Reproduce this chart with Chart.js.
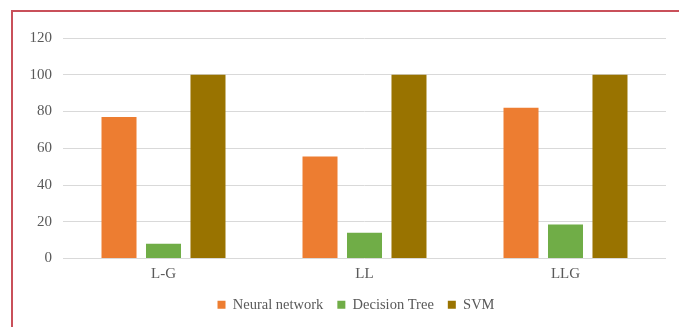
<!DOCTYPE html>
<html>
<head>
<meta charset="utf-8">
<script src="https://cdn.jsdelivr.net/npm/chart.js@4"></script>
<style>
  html, body { margin: 0; padding: 0; background: #fff; }
  body { width: 679px; height: 327px; position: relative; overflow: hidden; }
  #frame {
    position: absolute; left: 11px; top: 10px; width: 720px; height: 360px;
    border: 2px solid #c9505a; box-sizing: border-box;
  }
  #wrap { position: absolute; left: 0; top: 0; width: 679px; height: 327px; }
</style>
</head>
<body>
<div id="frame"></div>
<div id="wrap"><canvas id="c" width="679" height="327"></canvas></div>
<script>
const categories = ["L-G", "LL", "LLG"];
const neuralNetwork = [77, 55.5, 82];
const decisionTree = [8, 14, 18.5];
const svm = [100, 100, 100];
const seriesNames = ["Neural network", "Decision Tree", "SVM"];

const serif = "'Liberation Serif', 'Times New Roman', serif";

// Nudge the legend block to the right of the plot's centre line.
const legendShift = {
  id: "legendShift",
  afterLayout(chart) {
    const lg = chart.legend;
    if (lg) { lg.left += 23; lg.right += 23; }
  }
};

new Chart(document.getElementById("c"), {
  type: "bar",
  data: {
    labels: categories,
    datasets: [
      { label: seriesNames[0], data: neuralNetwork, backgroundColor: "#ed7d31" },
      { label: seriesNames[1], data: decisionTree, backgroundColor: "#70ad47" },
      { label: seriesNames[2], data: svm, backgroundColor: "#997300" }
    ]
  },
  plugins: [legendShift],
  options: {
    responsive: false,
    animation: false,
    devicePixelRatio: 1,
    layout: { padding: { top: 38, right: 13, bottom: 5, left: 0 } },
    datasets: { bar: { categoryPercentage: 0.664, barPercentage: 0.787 } },
    plugins: {
      tooltip: { enabled: false },
      legend: {
        position: "bottom",
        labels: {
          boxWidth: 8, boxHeight: 8, padding: 14,
          color: "#595959",
          font: { family: serif, size: 14.5 }
        }
      }
    },
    scales: {
      x: {
        afterFit(scale) { scale.height = 25; },
        grid: { display: false, drawTicks: false },
        border: { display: false },
        ticks: { color: "#595959", padding: 7, font: { family: serif, size: 15 } }
      },
      y: {
        min: 0, max: 120,
        afterFit(scale) { scale.width = 63; },
        grid: { color: "#d9d9d9", lineWidth: 1, drawTicks: false },
        border: { display: false },
        ticks: { stepSize: 20, color: "#595959", padding: 11, font: { family: serif, size: 15 } }
      }
    }
  }
});
</script>
</body>
</html>
